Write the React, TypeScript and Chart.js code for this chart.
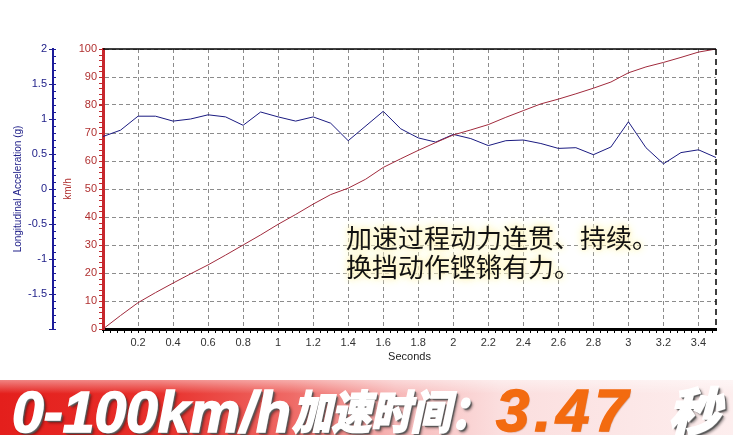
import React, { useEffect, useRef } from "react";
import { Chart, registerables } from "chart.js";

Chart.register(...registerables);

// ---- data ----
const timeS = [0, 0.1, 0.2, 0.3, 0.4, 0.5, 0.6, 0.7, 0.8, 0.9, 1.0, 1.1, 1.2, 1.3, 1.4, 1.5, 1.6, 1.7, 1.8, 1.9, 2.0, 2.1, 2.2, 2.3, 2.4, 2.5, 2.6, 2.7, 2.8, 2.9, 3.0, 3.1, 3.2, 3.3, 3.4, 3.5];
const speedKmh = [0, 4.8, 9.4, 13.0, 16.4, 19.7, 22.9, 26.4, 30.0, 33.6, 37.4, 40.9, 44.6, 48.0, 50.3, 53.5, 57.7, 60.8, 63.8, 66.6, 69.3, 71.1, 73.0, 75.6, 78.0, 80.4, 82.1, 84.0, 86.0, 88.2, 91.5, 93.6, 95.2, 97.0, 98.9, 100];
const accTimeS = [0, 0.1, 0.2, 0.3, 0.4, 0.5, 0.6, 0.7, 0.8, 0.9, 1.0, 1.1, 1.2, 1.3, 1.4, 1.6, 1.7, 1.8, 1.9, 2.0, 2.1, 2.2, 2.3, 2.4, 2.5, 2.6, 2.7, 2.8, 2.9, 3.0, 3.1, 3.2, 3.3, 3.4, 3.5];
const accelG = [0.75, 0.84, 1.04, 1.04, 0.97, 1.0, 1.06, 1.03, 0.91, 1.1, 1.03, 0.97, 1.03, 0.94, 0.69, 1.11, 0.86, 0.73, 0.67, 0.78, 0.72, 0.62, 0.69, 0.70, 0.65, 0.58, 0.59, 0.49, 0.60, 0.96, 0.59, 0.36, 0.52, 0.56, 0.45];

const xTitle = "Seconds";
const speedTitle = "km/h";
const accTitle = "Longitudinal Acceleration (g)";
const noteLines = ["加速过程动力连贯、持续。", "换挡动作铿锵有力。"];
const bannerLabel = "0-100km/h";
const bannerCjk = "加速时间：";
const bannerValue = "3.47";
const bannerUnit = "秒";

const FONT = "'Liberation Sans', Arial, sans-serif";
const CJK = "'Noto Sans CJK SC', 'Noto Sans', sans-serif";

const framePlugin = {
  id: "frame",
  afterDraw(chart: any) {
    const { ctx, chartArea, scales } = chart;
    const { left, right, top, bottom } = chartArea;
    ctx.save();
    ctx.strokeStyle = "#000";
    ctx.lineWidth = 1.5;
    ctx.beginPath();
    ctx.moveTo(left, top);
    ctx.lineTo(right, top);
    ctx.stroke();
    ctx.setLineDash([6, 4]);
    ctx.lineWidth = 1.5;
    ctx.beginPath();
    ctx.moveTo(right, top);
    ctx.lineTo(right, bottom);
    ctx.stroke();
    ctx.setLineDash([]);
    ctx.lineWidth = 1;
    ctx.strokeStyle = "#000";
    for (let i = 0; i <= 87; i++) {
      const px = Math.round(scales.x.getPixelForValue(i * 0.04)) + 0.5;
      ctx.beginPath();
      ctx.moveTo(px, bottom + 1);
      ctx.lineTo(px, bottom + 4);
      ctx.stroke();
    }
    ctx.strokeStyle = "#c0282d";
    for (let i = 0; i <= 50; i++) {
      const py = Math.round(scales.y.getPixelForValue(i * 2)) + 0.5;
      ctx.beginPath();
      ctx.moveTo(scales.y.right - 4, py);
      ctx.lineTo(scales.y.right - 1, py);
      ctx.stroke();
    }
    ctx.strokeStyle = "#1c1c9a";
    for (let i = 0; i <= 40; i++) {
      const py = Math.round(scales.acc.getPixelForValue(-2 + i * 0.1)) + 0.5;
      ctx.beginPath();
      ctx.moveTo(scales.acc.right, py);
      ctx.lineTo(scales.acc.right + 3, py);
      ctx.stroke();
    }
    ctx.restore();
  },
};

function ChartView() {
  const ref = useRef<HTMLCanvasElement | null>(null);
  useEffect(() => {
    if (!ref.current) return;
    Chart.defaults.font.family = FONT;
    const chart = new Chart(ref.current, {
      type: "line",
      data: {
        datasets: [
          {
            label: "Speed",
            data: timeS.map((t, i) => ({ x: t, y: speedKmh[i] })),
            yAxisID: "y",
            borderColor: "#a02a3c",
            borderWidth: 1,
            pointRadius: 0,
            tension: 0,
          },
          {
            label: "Acceleration",
            data: accTimeS.map((t, i) => ({ x: t, y: accelG[i] })),
            yAxisID: "acc",
            borderColor: "#1a1a80",
            borderWidth: 1,
            pointRadius: 0,
            tension: 0,
          },
        ],
      },
      options: {
        responsive: false,
        animation: false,
        layout: { padding: { top: 49, right: 17, left: 0, bottom: 0 } },
        plugins: { legend: { display: false }, tooltip: { enabled: false } },
        scales: {
          x: {
            type: "linear",
            position: "bottom",
            min: 0,
            max: 3.5,
            ticks: {
              stepSize: 0.2,
              includeBounds: false,
              autoSkip: false,
              maxRotation: 0,
              color: "#333",
              font: { size: 11 },
              padding: 3,
              callback: (v: any) => (Math.abs(v) < 1e-9 ? "" : String(Math.round(v * 10) / 10)),
            },
            grid: { color: "#8c8c8c", lineWidth: 1, drawTicks: true, tickLength: 4, tickColor: "#000" },
            border: { display: true, color: "#000", width: 3, dash: [4, 3] },
            title: { display: true, text: xTitle, color: "#222", font: { size: 11 }, padding: { top: 0, bottom: 71 } },
            afterFit: (s: any) => {
              s.height = 106;
            },
          },
          y: {
            type: "linear",
            position: "left",
            weight: 0,
            min: 0,
            max: 100,
            ticks: { stepSize: 10, color: "#b03030", font: { size: 11 }, padding: 2 },
            grid: { color: "#8c8c8c", lineWidth: 1, tickLength: 4, tickColor: "#b03030" },
            border: { display: true, color: "#c8282d", width: 3, dash: [4, 3] },
            title: { display: true, text: speedTitle, color: "#b03030", font: { size: 10 }, padding: { top: 9, bottom: 0 } },
            afterFit: (s: any) => {
              s.width = 50;
            },
          },
          acc: {
            type: "linear",
            position: "left",
            weight: 1,
            min: -2,
            max: 2,
            ticks: {
              stepSize: 0.5,
              color: "#22228a",
              font: { size: 11 },
              padding: 2,
              callback: (v: any) => (Math.abs(v + 2) < 1e-9 ? "" : String(v)),
            },
            grid: { drawOnChartArea: false, tickLength: 4, tickColor: "#22228a" },
            border: { display: true, color: "#1c1c9a", width: 2 },
            title: { display: true, text: accTitle, color: "#22228a", font: { size: 10 }, padding: { top: 12, bottom: 0 } },
            afterFit: (s: any) => {
              s.width = 53;
            },
          },
        },
      } as any,
      plugins: [framePlugin],
    });
    return () => chart.destroy();
  }, []);
  return <canvas ref={ref} width={733} height={435} style={{ display: "block", width: 733, height: 435 }} />;
}

const whiteShadow = "1px 1px 0 #7a7a7a, 2px 2px 1px #555, 3px 3px 3px rgba(0,0,0,0.45)";

export default function App() {
  return (
    <div style={{ position: "absolute", left: 0, top: 0, width: 733, height: 435, background: "#fff", overflow: "hidden" }}>
      <ChartView />
      <div
        style={{
          position: "absolute",
          left: 346,
          top: 222,
          fontFamily: CJK,
          fontSize: 26,
          lineHeight: "29px",
          color: "#111",
          whiteSpace: "nowrap",
          textShadow: "0 0 3px #fff8d0, 0 0 6px #fff3b8, 0 0 10px #fff4c0, 0 0 14px #fff8d8",
        }}
      >
        {noteLines.map((l, i) => (
          <div key={i}>{l}</div>
        ))}
      </div>
      <div
        style={{
          position: "absolute",
          left: 0,
          top: 380,
          width: 733,
          height: 55,
          background:
            "linear-gradient(to bottom, rgba(255,255,255,0.45), rgba(255,255,255,0) 25%), linear-gradient(to right, #e41f1c 0%, #e8302b 22%, #ef6b67 40%, #f7b8b8 54%, #fbdede 68%, #fdeeee 100%)",
        }}
      >
        <span
          style={{
            position: "absolute",
            left: 12,
            top: 4,
            fontFamily: FONT,
            fontWeight: 700,
            fontStyle: "italic",
            fontSize: 57,
            lineHeight: "57px",
            color: "#fff",
            whiteSpace: "nowrap",
            WebkitTextStroke: "1.5px #fff",
            textShadow: whiteShadow,
          }}
        >
          {bannerLabel}
        </span>
        <span
          style={{
            position: "absolute",
            left: 292,
            top: 3,
            fontFamily: CJK,
            fontWeight: 900,
            fontStyle: "italic",
            fontSize: 46,
            lineHeight: "52px",
            color: "#fff",
            whiteSpace: "nowrap",
            transform: "scaleX(0.86)",
            transformOrigin: "left top",
            WebkitTextStroke: "1.5px #fff",
            textShadow: whiteShadow,
          }}
        >
          {bannerCjk}
        </span>
        <span
          style={{
            position: "absolute",
            left: 496,
            top: 1,
            fontFamily: FONT,
            fontWeight: 700,
            fontStyle: "italic",
            fontSize: 60,
            lineHeight: "60px",
            letterSpacing: 5,
            color: "#f36b10",
            whiteSpace: "nowrap",
            WebkitTextStroke: "1.5px #f36b10",
            textShadow: "1px 1px 1px rgba(120,40,0,0.35)",
          }}
        >
          {bannerValue}
        </span>
        <span
          style={{
            position: "absolute",
            left: 668,
            top: 2,
            fontFamily: CJK,
            fontWeight: 900,
            fontStyle: "italic",
            fontSize: 52,
            lineHeight: "54px",
            color: "#fff",
            whiteSpace: "nowrap",
            WebkitTextStroke: "1.5px #fff",
            textShadow: whiteShadow,
          }}
        >
          {bannerUnit}
        </span>
      </div>
    </div>
  );
}
